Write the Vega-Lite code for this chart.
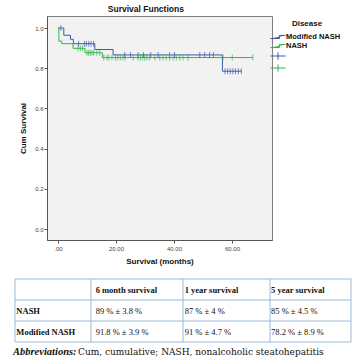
{
  "$schema": "https://vega.github.io/schema/vega-lite/v6.json",
  "background": "white",
  "padding": {"left": 12, "top": 4, "right": 6, "bottom": 4},
  "spacing": 12,
  "config": {"font": "Liberation Sans"},
  "datasets": {
    "curves": [
      {"grp": "Modified NASH", "t": 0, "s": 1.0},
      {"grp": "Modified NASH", "t": 2.0, "s": 0.964},
      {"grp": "Modified NASH", "t": 4.3, "s": 0.944},
      {"grp": "Modified NASH", "t": 5.3, "s": 0.922},
      {"grp": "Modified NASH", "t": 12.7, "s": 0.893},
      {"grp": "Modified NASH", "t": 19.0, "s": 0.866},
      {"grp": "Modified NASH", "t": 56.7, "s": 0.785},
      {"grp": "Modified NASH", "t": 63.2, "s": 0.785},
      {"grp": "NASH", "t": 0, "s": 1.0},
      {"grp": "NASH", "t": 0.3, "s": 0.935},
      {"grp": "NASH", "t": 1.3, "s": 0.922},
      {"grp": "NASH", "t": 5.2, "s": 0.899},
      {"grp": "NASH", "t": 9.3, "s": 0.877},
      {"grp": "NASH", "t": 15.3, "s": 0.853},
      {"grp": "NASH", "t": 67.2, "s": 0.853}
    ],
    "cens": [
      {"grp": "Modified NASH censored", "t": 1.0, "s": 1.0},
      {"grp": "Modified NASH censored", "t": 7.1, "s": 0.922},
      {"grp": "Modified NASH censored", "t": 9.1, "s": 0.922},
      {"grp": "Modified NASH censored", "t": 9.8, "s": 0.922},
      {"grp": "Modified NASH censored", "t": 10.6, "s": 0.922},
      {"grp": "Modified NASH censored", "t": 11.4, "s": 0.922},
      {"grp": "Modified NASH censored", "t": 12.3, "s": 0.922},
      {"grp": "Modified NASH censored", "t": 23.0, "s": 0.866},
      {"grp": "Modified NASH censored", "t": 25.0, "s": 0.866},
      {"grp": "Modified NASH censored", "t": 27.6, "s": 0.866},
      {"grp": "Modified NASH censored", "t": 29.5, "s": 0.866},
      {"grp": "Modified NASH censored", "t": 32.0, "s": 0.866},
      {"grp": "Modified NASH censored", "t": 34.5, "s": 0.866},
      {"grp": "Modified NASH censored", "t": 38.5, "s": 0.866},
      {"grp": "Modified NASH censored", "t": 40.2, "s": 0.866},
      {"grp": "Modified NASH censored", "t": 48.9, "s": 0.866},
      {"grp": "Modified NASH censored", "t": 50.6, "s": 0.866},
      {"grp": "Modified NASH censored", "t": 52.3, "s": 0.866},
      {"grp": "Modified NASH censored", "t": 53.6, "s": 0.866},
      {"grp": "Modified NASH censored", "t": 57.6, "s": 0.785},
      {"grp": "Modified NASH censored", "t": 58.5, "s": 0.785},
      {"grp": "Modified NASH censored", "t": 59.4, "s": 0.785},
      {"grp": "Modified NASH censored", "t": 60.3, "s": 0.785},
      {"grp": "Modified NASH censored", "t": 61.2, "s": 0.785},
      {"grp": "Modified NASH censored", "t": 62.2, "s": 0.785},
      {"grp": "Modified NASH censored", "t": 63.2, "s": 0.785},
      {"grp": "NASH censored", "t": 6.9, "s": 0.899},
      {"grp": "NASH censored", "t": 7.7, "s": 0.899},
      {"grp": "NASH censored", "t": 8.5, "s": 0.899},
      {"grp": "NASH censored", "t": 10.0, "s": 0.877},
      {"grp": "NASH censored", "t": 10.6, "s": 0.877},
      {"grp": "NASH censored", "t": 11.1, "s": 0.877},
      {"grp": "NASH censored", "t": 11.7, "s": 0.877},
      {"grp": "NASH censored", "t": 12.3, "s": 0.877},
      {"grp": "NASH censored", "t": 13.4, "s": 0.877},
      {"grp": "NASH censored", "t": 14.4, "s": 0.877},
      {"grp": "NASH censored", "t": 15.8, "s": 0.853},
      {"grp": "NASH censored", "t": 16.9, "s": 0.853},
      {"grp": "NASH censored", "t": 17.5, "s": 0.853},
      {"grp": "NASH censored", "t": 18.6, "s": 0.853},
      {"grp": "NASH censored", "t": 19.8, "s": 0.853},
      {"grp": "NASH censored", "t": 20.6, "s": 0.853},
      {"grp": "NASH censored", "t": 21.5, "s": 0.853},
      {"grp": "NASH censored", "t": 22.4, "s": 0.853},
      {"grp": "NASH censored", "t": 23.2, "s": 0.853},
      {"grp": "NASH censored", "t": 25.9, "s": 0.853},
      {"grp": "NASH censored", "t": 27.6, "s": 0.853},
      {"grp": "NASH censored", "t": 28.4, "s": 0.853},
      {"grp": "NASH censored", "t": 29.1, "s": 0.853},
      {"grp": "NASH censored", "t": 29.9, "s": 0.853},
      {"grp": "NASH censored", "t": 30.7, "s": 0.853},
      {"grp": "NASH censored", "t": 31.6, "s": 0.853},
      {"grp": "NASH censored", "t": 33.4, "s": 0.853},
      {"grp": "NASH censored", "t": 35.1, "s": 0.853},
      {"grp": "NASH censored", "t": 36.2, "s": 0.853},
      {"grp": "NASH censored", "t": 37.3, "s": 0.853},
      {"grp": "NASH censored", "t": 38.5, "s": 0.853},
      {"grp": "NASH censored", "t": 39.7, "s": 0.853},
      {"grp": "NASH censored", "t": 40.8, "s": 0.853},
      {"grp": "NASH censored", "t": 42.0, "s": 0.853},
      {"grp": "NASH censored", "t": 43.1, "s": 0.853},
      {"grp": "NASH censored", "t": 44.8, "s": 0.853},
      {"grp": "NASH censored", "t": 56.9, "s": 0.853},
      {"grp": "NASH censored", "t": 60.1, "s": 0.853},
      {"grp": "NASH censored", "t": 67.2, "s": 0.853}
    ],
    "hl": [{"y": 0}, {"y": 1}, {"y": 2}, {"y": 3}],
    "vl": [{"x": 0}, {"x": 22.6}, {"x": 50}, {"x": 75.9}, {"x": 100}],
    "cells": [
      {"y": 0.5, "x": 24.0, "text": "6 month survival", "b": 1},
      {"y": 0.5, "x": 50.5, "text": "1 year survival", "b": 1},
      {"y": 0.5, "x": 76.2, "text": "5 year survival", "b": 1},
      {"y": 1.5, "x": 0.4, "text": "NASH", "b": 1},
      {"y": 1.5, "x": 24.0, "text": "89 % ± 3.8 %", "b": 0},
      {"y": 1.5, "x": 50.5, "text": "87 % ± 4 %", "b": 0},
      {"y": 1.5, "x": 76.2, "text": "85 % ± 4.5 %", "b": 0},
      {"y": 2.5, "x": 0.4, "text": "Modified NASH", "b": 1},
      {"y": 2.5, "x": 24.0, "text": "91.8 % ± 3.9 %", "b": 0},
      {"y": 2.5, "x": 50.5, "text": "91 % ± 4.7 %", "b": 0},
      {"y": 2.5, "x": 76.2, "text": "78.2 % ± 8.9 %", "b": 0}
    ],
    "notes": [
      {"y": 3.48, "x": -0.6, "text": "Abbreviations:", "b": 1},
      {"y": 3.48, "x": 18.75, "text": "Cum, cumulative; NASH, nonalcoholic steatohepatitis", "b": 0}
    ]
  },
  "vconcat": [
    {
      "width": 225,
      "height": 224,
      "view": {"fill": "#f2f2f2", "stroke": "#7f7f7f", "strokeWidth": 1},
      "title": {"text": "Survival Functions", "fontSize": 8.5, "fontWeight": "bold", "anchor": "middle", "frame": "bounds", "offset": 3, "color": "#111"},
      "layer": [
        {
          "data": {"name": "curves"},
          "mark": {"type": "line", "interpolate": "step-after", "strokeWidth": 1},
          "encoding": {
            "x": {"field": "t", "type": "quantitative",
              "scale": {"domain": [-3.79, 73.8], "nice": false, "zero": false},
              "axis": {"title": "Survival (months)", "values": [0, 20, 40, 60],
                "labelExpr": "datum.value == 0 ? '.00' : format(datum.value, '.2f')",
                "grid": false, "labelFontSize": 6, "labelColor": "#444", "tickSize": 3, "tickColor": "#555",
                "domainColor": "#555", "titleFontSize": 8, "titleFontWeight": "bold", "titleColor": "#111",
                "titlePadding": 6, "labelPadding": 2}},
            "y": {"field": "s", "type": "quantitative",
              "scale": {"domain": [-0.0547, 1.0597], "nice": false, "zero": false},
              "axis": {"title": "Cum Survival", "values": [0, 0.2, 0.4, 0.6, 0.8, 1.0], "format": ".1f",
                "grid": false, "labelFontSize": 6, "labelColor": "#444", "tickSize": 3, "tickColor": "#555",
                "domainColor": "#555", "titleFontSize": 8, "titleFontWeight": "bold", "titleColor": "#111",
                "titlePadding": 7, "labelPadding": 1}},
            "color": {"field": "grp", "type": "nominal",
              "scale": {"domain": ["Modified NASH", "NASH", "Modified NASH censored", "NASH censored"],
                "range": ["#3E58AC", "#2EB848", "#3E58AC", "#2EB848"]},
              "legend": {"title": "Disease", "orient": "none", "legendX": 226, "legendY": 4,
                "titleFontSize": 8, "titleFontWeight": "bold", "titleColor": "#111", "titleAnchor": "middle",
                "titlePadding": 4, "labelFontSize": 7.5, "labelFontWeight": "bold", "labelColor": "#111",
                "labelOffset": 3, "rowPadding": 0, "symbolSize": 81, "padding": 0,
                "labelExpr": "indexof(datum.label, 'censored') >= 0 ? '' : datum.label",
                "encode": {"symbols": {"update": {
                  "shape": {"signal": "indexof(datum.value, 'censored') >= 0 ? 'M-1.69,0H1.69M0,-0.8V0.8' : 'M-1.69,0.35H0.3V-0.35H1.69'"},
                  "size": {"value": 81},
                  "fill": {"value": "transparent"},
                  "stroke": {"scale": "color", "field": "value"},
                  "strokeWidth": {"value": 1},
                  "opacity": {"value": 1}}}}}}
          }
        },
        {
          "data": {"name": "cens"},
          "mark": {"type": "tick", "orient": "vertical", "size": 6, "thickness": 1},
          "encoding": {
            "x": {"field": "t", "type": "quantitative"},
            "y": {"field": "s", "type": "quantitative"},
            "color": {"field": "grp", "type": "nominal"}
          }
        }
      ]
    },
    {
      "width": 225,
      "height": 63,
      "view": {"stroke": null},
      "layer": [
        {
          "data": {"name": "hl"},
          "mark": {"type": "rule", "color": "#9bbad8", "strokeWidth": 1},
          "encoding": {
            "y": {"field": "y", "type": "quantitative", "scale": {"domain": [0, 3], "reverse": true, "nice": false, "zero": false}, "axis": null},
            "x": {"datum": 0, "type": "quantitative", "scale": {"domain": [9.52, 76.49], "nice": false, "zero": false}, "axis": null},
            "x2": {"datum": 100}
          }
        },
        {
          "data": {"name": "vl"},
          "mark": {"type": "rule", "color": "#9bbad8", "strokeWidth": 1},
          "encoding": {
            "x": {"field": "x", "type": "quantitative"},
            "y": {"datum": 0, "type": "quantitative"},
            "y2": {"datum": 3}
          }
        },
        {
          "data": {"name": "cells"},
          "transform": [{"filter": "datum.b == 1"}],
          "mark": {"type": "text", "font": "Liberation Serif", "fontSize": 8.5, "fontWeight": "bold", "align": "left", "baseline": "middle", "color": "#111"},
          "encoding": {
            "x": {"field": "x", "type": "quantitative"},
            "y": {"field": "y", "type": "quantitative"},
            "text": {"field": "text"}
          }
        },
        {
          "data": {"name": "cells"},
          "transform": [{"filter": "datum.b == 0"}],
          "mark": {"type": "text", "font": "Liberation Serif", "fontSize": 8.5, "align": "left", "baseline": "middle", "color": "#111"},
          "encoding": {
            "x": {"field": "x", "type": "quantitative"},
            "y": {"field": "y", "type": "quantitative"},
            "text": {"field": "text"}
          }
        },
        {
          "data": {"name": "notes"},
          "transform": [{"filter": "datum.b == 1"}],
          "mark": {"type": "text", "font": "Liberation Serif", "fontSize": 10.5, "fontWeight": "bold", "fontStyle": "italic", "align": "left", "baseline": "middle", "color": "#111"},
          "encoding": {
            "x": {"field": "x", "type": "quantitative"},
            "y": {"field": "y", "type": "quantitative"},
            "text": {"field": "text"}
          }
        },
        {
          "data": {"name": "notes"},
          "transform": [{"filter": "datum.b == 0"}],
          "mark": {"type": "text", "font": "DejaVu Serif", "fontSize": 9, "align": "left", "baseline": "middle", "color": "#111"},
          "encoding": {
            "x": {"field": "x", "type": "quantitative"},
            "y": {"field": "y", "type": "quantitative"},
            "text": {"field": "text"}
          }
        }
      ]
    }
  ]
}
